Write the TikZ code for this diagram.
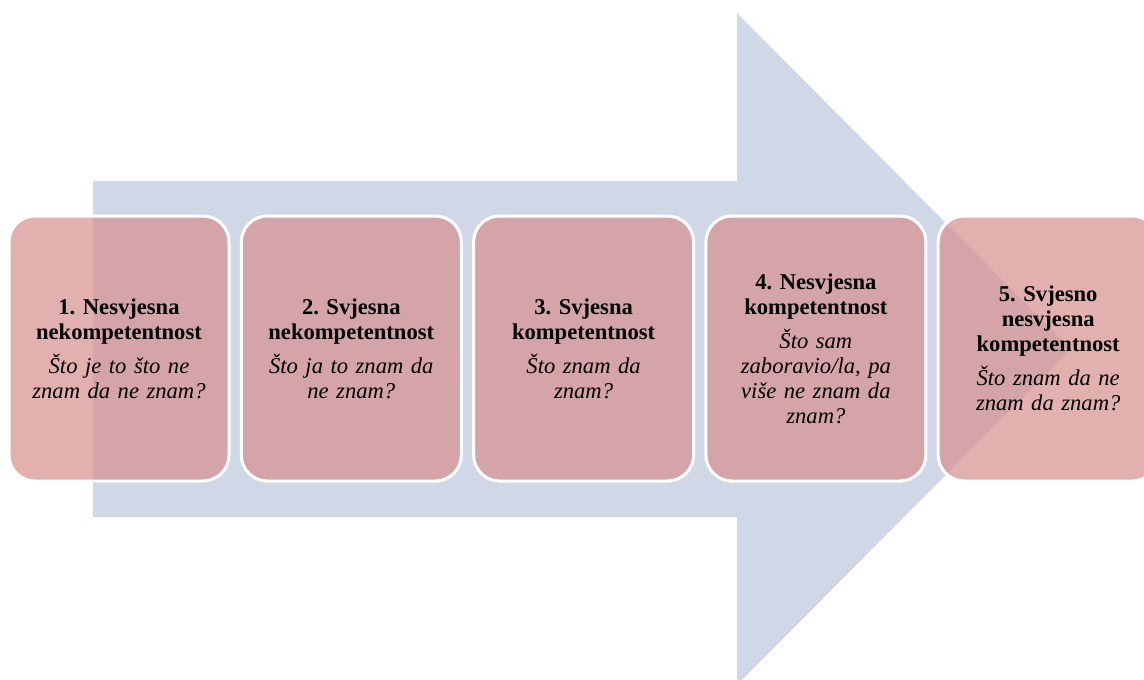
\documentclass[tikz,border=0pt]{standalone}
\usepackage{fontspec}
\setmainfont{Liberation Serif}
\frenchspacing
\definecolor{arrowblue}{RGB}{208,216,232}
\definecolor{stagered}{RGB}{216,145,145}
\newcommand{\stagetext}[2]{\textbf{#1}\\[9pt]\textit{#2}}
\begin{document}
\begin{tikzpicture}[x=1pt,y=-1pt,node distance=232.3pt,
	stage node/.style = {rectangle,rounded corners=26pt,draw=white,line width=3pt,
		fill=stagered,fill opacity=0.72,draw opacity=1,text opacity=1,
		minimum width=220pt,minimum height=265pt,inner sep=0pt,
		text width=210pt,align=center,
		font=\fontsize{22.6}{25}\selectfont}]
	\clip (0,0) rectangle (1144,680);
	
	% big arrow in the back
	\fill[arrowblue] (93,181) -- (737,181) -- (737,13) -- (1071,349)
		-- (737,685) -- (737,517) -- (93,517) -- cycle;
	
	\node[stage node] (1) at (119,348.5) {\stagetext{1. Nesvjesna\\nekompetentnost}{Što je to što ne\\znam da ne znam?}};
	\node[stage node] [right of = 1] (2) {\stagetext{2. Svjesna\\nekompetentnost}{Što ja to znam da\\ne znam?}};
	\node[stage node] [right of = 2] (3) {\stagetext{3. Svjesna\\kompetentnost}{Što znam da\\znam?}};
	\node[stage node] [right of = 3] (4) {\stagetext{4. Nesvjesna\\kompetentnost}{Što sam\\zaboravio/la, pa\\više ne znam da\\znam?}};
	\node[stage node] [right of = 4] (5) {\stagetext{5. Svjesno\\nesvjesna\\kompetentnost}{Što znam da ne\\znam da znam?}};
\end{tikzpicture}
\end{document}
